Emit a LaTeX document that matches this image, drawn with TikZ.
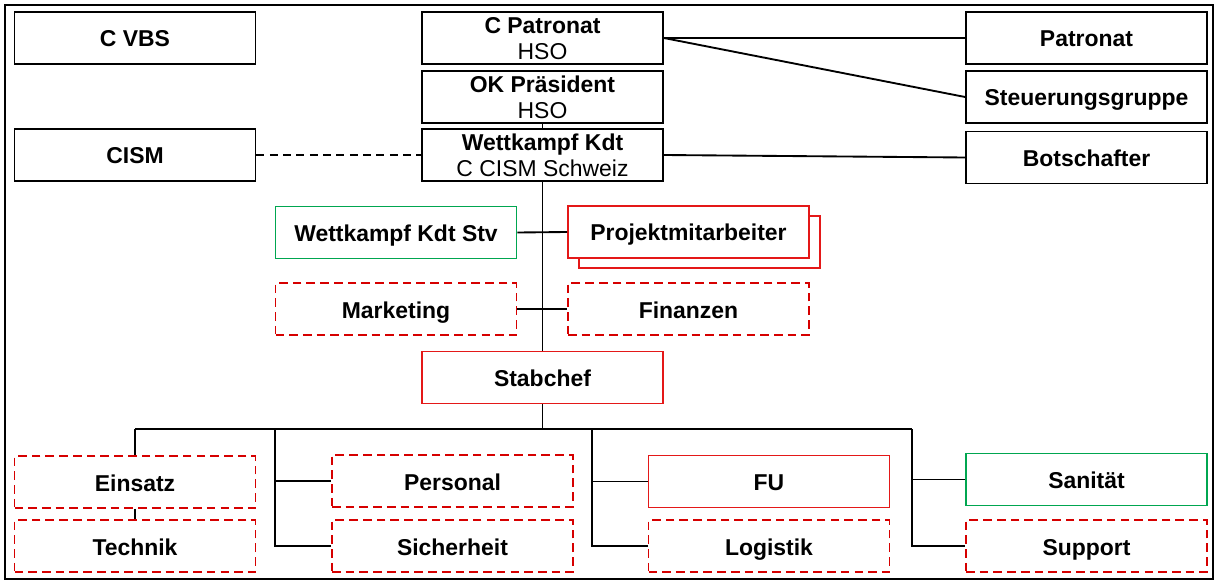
\documentclass[tikz,border=0pt]{standalone}
\usepackage{tikz}
\usepackage{fontspec}
\setmainfont{Liberation Sans}
\definecolor{orgred}{RGB}{228,24,24}
\definecolor{dashred}{RGB}{214,0,0}
\definecolor{orggreen}{RGB}{0,166,80}

\begin{document}
\begin{tikzpicture}[x=0.75pt,y=-0.75pt,line width=1.4pt,
        box/.style={rectangle,draw=black,fill=white,minimum width=180.75pt,minimum height=39pt,
            inner sep=0pt,text height=15pt,text depth=1.5pt,align=center,
            font=\fontsize{17.2}{19.5}\selectfont},
        twoline/.style={box,text height=34.5pt},
        redbox/.style={box,draw=orgred},
        greenbox/.style={box,draw=orggreen},
        dashbox/.style={box,draw=dashred,dash pattern=on 6.5pt off 3.8pt}]

    \useasboundingbox (0,0) rectangle (1218,581);
    \draw[line width=1.6pt] (5,5) rectangle (1213,579);

    \node[box] (cvbs) at (135,38) {\textbf{C VBS}};
    \node[box] (cism) at (135,155) {\textbf{CISM}};
    \node[twoline] (cpat) at (542.5,38) {\textbf{C Patronat}\\HSO};
    \node[twoline] (okp) at (542.5,97) {\textbf{OK Präsident}\\HSO};
    \node[twoline] (wkdt) at (542.5,155) {\textbf{Wettkampf Kdt}\\C CISM Schweiz};
    \node[box] (patronat) at (1086.5,38) {\textbf{Patronat}};
    \node[box] (steuer) at (1086.5,97) {\textbf{Steuerungsgruppe}};
    \node[box] (botsch) at (1086.5,157.5) {\textbf{Botschafter}};

    \node[greenbox] (stv) at (396,232.5) {\textbf{Wettkampf Kdt Stv}};
    \node[redbox] (projektbg) at (699.5,242) {};
    \node[redbox] (projekt) at (688.5,232) {\textbf{Projektmitarbeiter}};
    \node[dashbox] (marketing) at (396,309) {\textbf{Marketing}};
    \node[dashbox] (finanzen) at (688.5,309) {\textbf{Finanzen}};
    \node[redbox] (stabchef) at (542.5,377.5) {\textbf{Stabchef}};

    \node[dashbox] (einsatz) at (135,482) {\textbf{Einsatz}};
    \node[dashbox] (technik) at (135,546) {\textbf{Technik}};
    \node[dashbox] (personal) at (452.5,481) {\textbf{Personal}};
    \node[dashbox] (sicherheit) at (452.5,546) {\textbf{Sicherheit}};
    \node[redbox] (fu) at (769,481.5) {\textbf{FU}};
    \node[dashbox] (logistik) at (769,546) {\textbf{Logistik}};
    \node[greenbox] (sanitaet) at (1086.5,479.5) {\textbf{Sanität}};
    \node[dashbox] (support) at (1086.5,546) {\textbf{Support}};

    \coordinate (bus) at (542.5,429);
    \coordinate (col1) at (275,429);
    \coordinate (col2) at (592,429);
    \coordinate (col3) at (912,429);

    \draw (cpat.east) -- (patronat.west);
    \draw (cpat.east) -- (steuer.west);
    \draw (wkdt.east) -- (botsch.west);
    \draw[dash pattern=on 6pt off 4pt] (cism.east) -- (wkdt.west);
    \draw (okp.south) -- (wkdt.north);
    \draw (wkdt.south) -- (stabchef.north);
    \draw (stv.east) -- (projekt.west);
    \draw (marketing.east) -- (finanzen.west);

    \draw (stabchef.south) -- (bus);
    \draw (einsatz.north |- bus) -- (col3);
    \draw (einsatz.north |- bus) -- (einsatz.north);
    \draw (einsatz.south) -- (technik.north);
    \draw (col1) |- (sicherheit.west);
    \draw (col1 |- personal.west) -- (personal.west);
    \draw (col2) |- (logistik.west);
    \draw (col2 |- fu.west) -- (fu.west);
    \draw (col3) |- (support.west);
    \draw (col3 |- sanitaet.west) -- (sanitaet.west);

\end{tikzpicture}
\end{document}
